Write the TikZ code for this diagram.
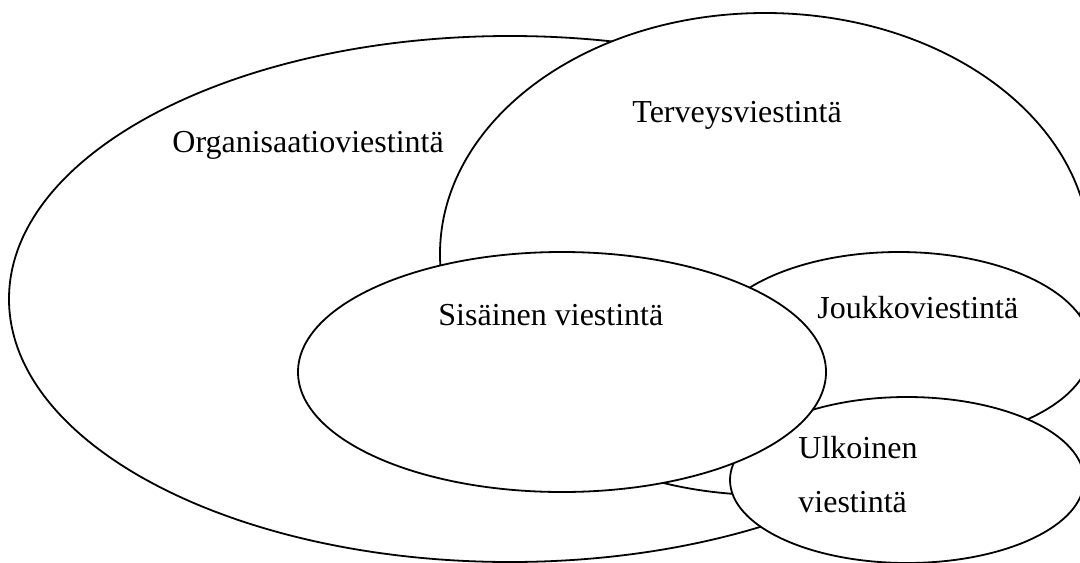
\documentclass[tikz,border=0pt]{standalone}
\usepackage{fontspec}
\setmainfont{Liberation Serif}
\usetikzlibrary{shapes.geometric}

\begin{document}
\begin{tikzpicture}[
        x=0.5pt, y=-0.5pt,
        area/.style={ellipse, draw=black, fill=white, line width=0.9pt, inner sep=0pt},
        label/.style={anchor=base west, inner sep=0pt, font=\fontsize{16}{27}\selectfont, align=left}
    ]
    \useasboundingbox (0,0) rectangle (1080,562);

    \node[area, minimum width=501pt, minimum height=263pt] (org)  at (510,299) {};
    \node[area, minimum width=325pt, minimum height=241pt] (terv) at (765,254) {};
    \node[area, minimum width=192pt, minimum height=96pt]  (jouk) at (899,348) {};
    \node[area, minimum width=177pt, minimum height=83pt]  (ulk)  at (907,480) {};
    \node[area, minimum width=264pt, minimum height=120pt] (sis)  at (562,372) {};

    \node[label] (orgtxt)  at (172,152) {Organisaatioviestintä};
    \node[label] (tervtxt) at (632,122) {Terveysviestintä};
    \node[label] (sistxt)  at (438,325) {Sisäinen viestintä};
    \node[label] (jouktxt) at (817,318) {Joukkoviestintä};
    \node[label] (ulktxt)  at (798,512) {Ulkoinen\\viestintä};
\end{tikzpicture}
\end{document}
